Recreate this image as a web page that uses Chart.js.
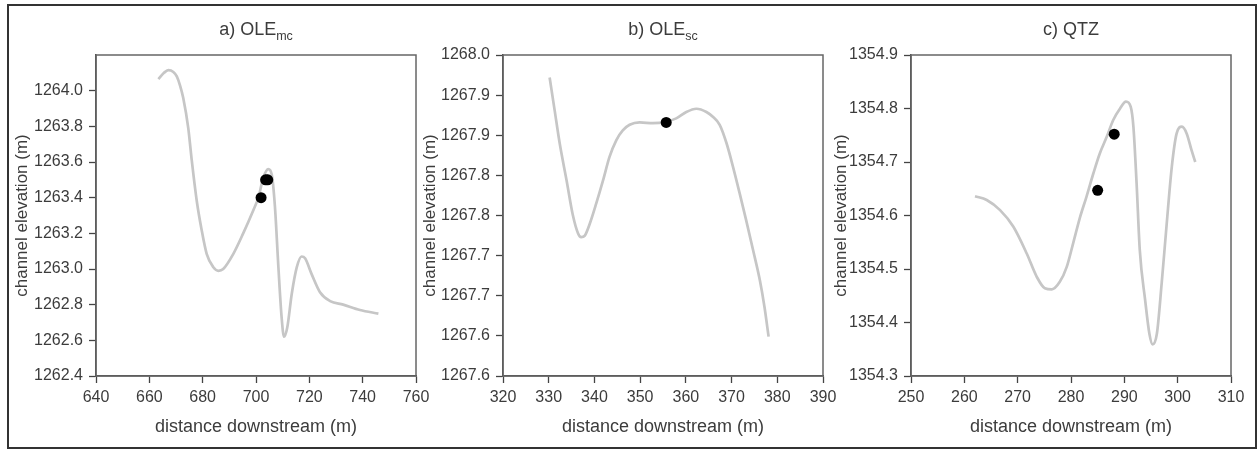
<!DOCTYPE html>
<html>
<head>
<meta charset="utf-8">
<script src="https://cdn.jsdelivr.net/npm/chart.js@4.4.1/dist/chart.umd.min.js"></script>
<style>
  html, body { margin: 0; padding: 0; background: #fff; }
  body { width: 1259px; height: 450px; position: relative; overflow: hidden; }
  canvas { position: absolute; left: 0; top: 0; }
  #frame { position: absolute; left: 7px; top: 4px; width: 1246px; height: 441px; border: 2px solid #333; }
</style>
</head>
<body>
<div id="frame"></div>
<canvas id="ca" width="1259" height="450"></canvas>
<canvas id="cb" width="1259" height="450"></canvas>
<canvas id="cc" width="1259" height="450"></canvas>
<script>
// ---------- Panel a) OLEmc ----------
const aTitleMain = 'a) OLE';
const aTitleSub = 'mc';
const aLineX = [663.4, 665.5, 667.1, 669.0, 670.3, 671.5, 672.7, 674.6, 675.9, 677.8, 679.6, 681.5, 684.0, 685.9, 687.7, 691.5, 695.2, 699.0, 700.9, 702.7, 704.6, 705.9, 707.1, 708.4, 709.6, 710.5, 711.7, 713.4, 715.3, 717.1, 718.4, 720.9, 724.0, 727.8, 732.7, 739.0, 745.9];
const aLineY = [1264.065, 1264.10, 1264.115, 1264.105, 1264.08, 1264.03, 1263.96, 1263.79, 1263.61, 1263.38, 1263.22, 1263.085, 1263.01, 1262.99, 1263.0, 1263.085, 1263.2, 1263.33, 1263.4, 1263.51, 1263.56, 1263.53, 1263.35, 1263.01, 1262.73, 1262.62, 1262.67, 1262.86, 1263.01, 1263.07, 1263.06, 1262.97, 1262.87, 1262.82, 1262.80, 1262.77, 1262.75];
const aDotX = [701.9, 703.6, 704.4];
const aDotY = [1263.40, 1263.50, 1263.50];
const aXTicks = [640, 660, 680, 700, 720, 740, 760];
const aYTicks = [1262.4, 1262.6, 1262.8, 1263.0, 1263.2, 1263.4, 1263.6, 1263.8, 1264.0];
const aYLabels = ['1262.4', '1262.6', '1262.8', '1263.0', '1263.2', '1263.4', '1263.6', '1263.8', '1264.0'];
const aXRange = [640, 760];
const aYRange = [1262.4, 1264.2];

// ---------- Panel b) OLEsc ----------
const bTitleMain = 'b) OLE';
const bTitleSub = 'sc';
const bLineX = [330.2, 331.3, 332.4, 333.9, 335.3, 336.4, 337.1, 337.9, 339.0, 340.4, 341.9, 343.3, 344.8, 346.2, 347.7, 349.9, 352.8, 355.7, 357.9, 360.1, 362.3, 364.5, 365.9, 367.4, 368.9, 370.3, 371.8, 373.2, 374.7, 376.2, 377.2, 378.1];
const bLineY = [1267.972, 1267.931, 1267.89, 1267.844, 1267.80, 1267.778, 1267.773, 1267.775, 1267.79, 1267.815, 1267.844, 1267.873, 1267.894, 1267.906, 1267.913, 1267.916, 1267.915, 1267.917, 1267.921, 1267.929, 1267.933, 1267.929, 1267.923, 1267.913, 1267.89, 1267.861, 1267.827, 1267.794, 1267.757, 1267.719, 1267.686, 1267.649];
const bDotX = [355.7];
const bDotY = [1267.916];
const bXTicks = [320, 330, 340, 350, 360, 370, 380, 390];
const bYTicks = [1267.6, 1267.65, 1267.7, 1267.75, 1267.8, 1267.85, 1267.9, 1267.95, 1268.0];
const bYLabels = ['1267.6', '1267.6', '1267.7', '1267.7', '1267.8', '1267.8', '1267.9', '1267.9', '1268.0'];
const bXRange = [320, 390];
const bYRange = [1267.6, 1268.0];

// ---------- Panel c) QTZ ----------
const cTitleMain = 'c) QTZ';
const cTitleSub = '';
const cLineX = [262.0, 264.2, 266.7, 269.2, 271.7, 273.6, 275.1, 276.4, 277.9, 279.2, 280.4, 281.7, 282.9, 284.2, 285.4, 286.7, 287.9, 289.2, 290.3, 291.2, 291.7, 292.3, 292.9, 293.9, 294.7, 295.3, 296.1, 297.0, 297.9, 298.9, 299.8, 300.8, 301.7, 302.6, 303.3];
const cLineY = [1354.636, 1354.629, 1354.61, 1354.579, 1354.529, 1354.485, 1354.464, 1354.462, 1354.476, 1354.504, 1354.548, 1354.597, 1354.635, 1354.679, 1354.716, 1354.747, 1354.778, 1354.80, 1354.813, 1354.803, 1354.766, 1354.66, 1354.535, 1354.442, 1354.379, 1354.359, 1354.379, 1354.473, 1354.579, 1354.691, 1354.753, 1354.766, 1354.753, 1354.722, 1354.70];
const cDotX = [285.0, 288.1];
const cDotY = [1354.647, 1354.752];
const cXTicks = [250, 260, 270, 280, 290, 300, 310];
const cYTicks = [1354.3, 1354.4, 1354.5, 1354.6, 1354.7, 1354.8, 1354.9];
const cYLabels = ['1354.3', '1354.4', '1354.5', '1354.6', '1354.7', '1354.8', '1354.9'];
const cXRange = [250, 310];
const cYRange = [1354.3, 1354.9];

const xTitle = 'distance downstream (m)';
const yTitle = 'channel elevation (m)';

const FONT = '"Liberation Sans", Arial, sans-serif';
const TXT = '#3c3c3c';
const AXC = '#444';

const zip = (xs, ys) => xs.map((x, i) => ({ x: x, y: ys[i] }));

const framePlugin = {
  id: 'frameBox',
  beforeDatasetsDraw(chart) {
    const a = chart.chartArea, ctx = chart.ctx;
    ctx.save();
    ctx.strokeStyle = '#666';
    ctx.lineWidth = 1.5;
    ctx.strokeRect(a.left, a.top, a.right - a.left, a.bottom - a.top);
    ctx.restore();
  }
};

const titlePlugin = {
  id: 'subTitle',
  afterDraw(chart) {
    const o = chart.options.plugins.subTitle;
    const ctx = chart.ctx, a = chart.chartArea;
    ctx.save();
    ctx.fillStyle = TXT;
    ctx.textBaseline = 'alphabetic';
    const mainFont = '18px ' + FONT, subFont = '12.5px ' + FONT;
    ctx.font = mainFont;
    const w1 = ctx.measureText(o.main).width;
    ctx.font = subFont;
    const w2 = o.sub ? ctx.measureText(o.sub).width : 0;
    const cx = (a.left + a.right) / 2;
    const x0 = cx - (w1 + w2) / 2;
    ctx.font = mainFont;
    ctx.textAlign = 'left';
    ctx.fillText(o.main, x0, 35);
    if (o.sub) {
      ctx.font = subFont;
      ctx.fillText(o.sub, x0 + w1, 40);
    }
    ctx.restore();
  }
};

function makeChart(id, cfg) {
  const yTickVals = cfg.yTicks, xTickVals = cfg.xTicks;
  return new Chart(document.getElementById(id), {
    type: 'scatter',
    data: {
      datasets: [
        {
          data: zip(cfg.lineX, cfg.lineY),
          showLine: true,
          borderColor: '#c6c6c6',
          borderWidth: 2.7,
          pointRadius: 0,
          cubicInterpolationMode: 'monotone',
          order: 2
        },
        {
          data: zip(cfg.dotX, cfg.dotY),
          showLine: false,
          pointRadius: 5.5,
          pointBackgroundColor: '#000',
          pointBorderColor: '#000',
          pointBorderWidth: 0,
          order: 1
        }
      ]
    },
    options: {
      responsive: false,
      animation: false,
      devicePixelRatio: 1,
      events: [],
      layout: { padding: cfg.pad },
      plugins: {
        legend: { display: false },
        tooltip: { enabled: false },
        title: { display: false },
        subTitle: { main: cfg.main, sub: cfg.sub }
      },
      scales: {
        x: {
          type: 'linear',
          min: cfg.xRange[0], max: cfg.xRange[1],
          afterBuildTicks: s => { s.ticks = xTickVals.map(v => ({ value: v })); },
          afterFit: s => { s.height = cfg.xH; s.paddingLeft = 0; s.paddingRight = 0; },
          ticks: {
            color: TXT, font: { family: FONT, size: 16 }, padding: 5, maxRotation: 0,
            callback: v => String(v)
          },
          grid: { drawOnChartArea: false, drawTicks: true, tickLength: 7, color: AXC, tickWidth: 1.3 },
          border: { display: true, color: AXC, width: 1.5 },
          title: { display: true, text: xTitle, color: TXT, font: { family: FONT, size: 18 }, padding: 0 }
        },
        y: {
          type: 'linear',
          min: cfg.yRange[0], max: cfg.yRange[1],
          afterBuildTicks: s => { s.ticks = yTickVals.map(v => ({ value: v })); },
          afterFit: s => { s.width = cfg.yW; s.paddingTop = 0; s.paddingBottom = 0; },
          ticks: {
            color: TXT, font: { family: FONT, size: 16 }, padding: 6,
            callback: (v, i) => cfg.yLabels[i]
          },
          grid: { drawOnChartArea: false, drawTicks: true, tickLength: 7, color: AXC, tickWidth: 1.3 },
          border: { display: true, color: AXC, width: 1.5 },
          title: { display: true, text: yTitle, color: TXT, font: { family: FONT, size: 17 }, padding: 0 }
        }
      }
    },
    plugins: [framePlugin, titlePlugin]
  });
}

makeChart('ca', {
  main: aTitleMain, sub: aTitleSub,
  lineX: aLineX, lineY: aLineY, dotX: aDotX, dotY: aDotY,
  xTicks: aXTicks, yTicks: aYTicks, yLabels: aYLabels, xRange: aXRange, yRange: aYRange,
  pad: { left: 12, right: 843, top: 55, bottom: 12 }, yW: 84, xH: 62
});
makeChart('cb', {
  main: bTitleMain, sub: bTitleSub,
  lineX: bLineX, lineY: bLineY, dotX: bDotX, dotY: bDotY,
  xTicks: bXTicks, yTicks: bYTicks, yLabels: bYLabels, xRange: bXRange, yRange: bYRange,
  pad: { left: 420, right: 436, top: 55, bottom: 12 }, yW: 83, xH: 62
});
makeChart('cc', {
  main: cTitleMain, sub: cTitleSub,
  lineX: cLineX, lineY: cLineY, dotX: cDotX, dotY: cDotY,
  xTicks: cXTicks, yTicks: cYTicks, yLabels: cYLabels, xRange: cXRange, yRange: cYRange,
  pad: { left: 831, right: 28, top: 55, bottom: 12 }, yW: 80, xH: 62
});
</script>
</body>
</html>
